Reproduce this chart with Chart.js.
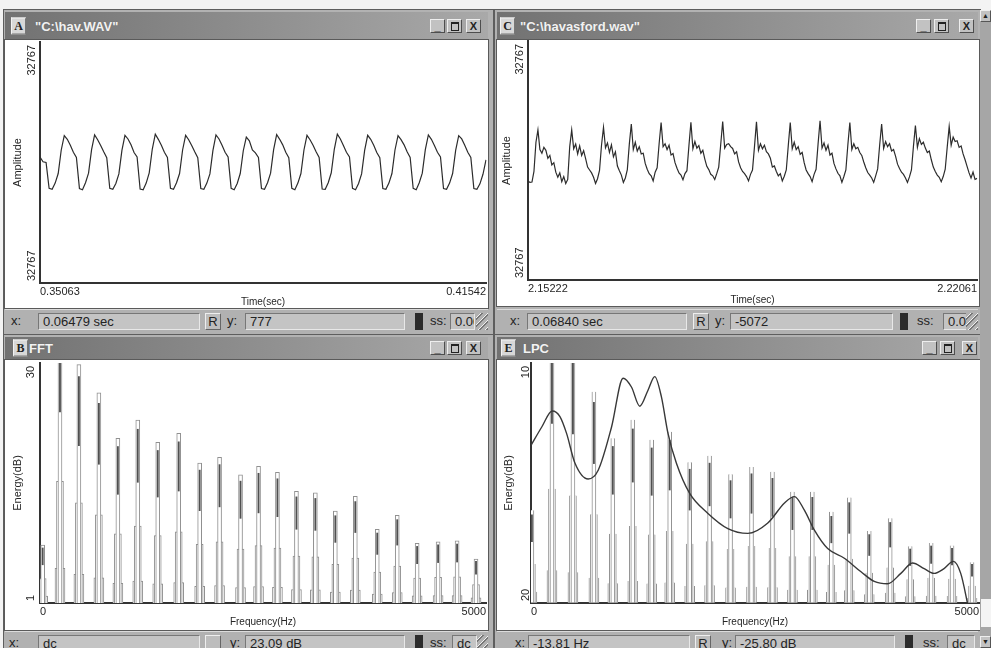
<!DOCTYPE html>
<html>
<head>
<meta charset="utf-8">
<script src="https://cdn.jsdelivr.net/npm/chart.js@4.4.1/dist/chart.umd.min.js"></script>
<style>
html, body { margin: 0; padding: 0; }
body { width: 991px; height: 648px; background: #f3f3f3; position: relative; overflow: hidden; font-family: "Liberation Sans", Arial, sans-serif; }
.frame { position: absolute; background: #b2b2b2; border: 1px solid #5e5e5e; box-sizing: border-box; }
.title { position: absolute; background: linear-gradient(to right, #727272, #a9a9a9); color: #f2f2f2; font-weight: bold; font-size: 13px; }
.title .txt { position: absolute; top: 50%; transform: translateY(-50%); white-space: nowrap; text-shadow: 0 0 1px #666; }
.badge { position: absolute; top: 50%; transform: translateY(-50%); width: 13px; height: 15px; background: #d8d8d8; color: #222; font: bold 12px "Liberation Serif", serif; text-align: center; line-height: 15px; border: 1px solid; border-color: #f2f2f2 #777 #777 #f2f2f2; }
.tbtn { position: absolute; top: 50%; transform: translateY(-50%); width: 15px; height: 14px; background: #c2c2c2; border: 1px solid; border-color: #eee #4e4e4e #4e4e4e #eee; box-sizing: border-box; color: #222; font: bold 11px "Liberation Sans", Arial, sans-serif; text-align: center; line-height: 12px; }
.tbtn .box { position: absolute; left: 3px; top: 2px; width: 6px; height: 6px; border: 1px solid #222; border-top-width: 2px; }
.client { position: absolute; background: #fff; border: 1px solid #5a5a5a; }
.client div { position: relative; width: 100%; height: 100%; }
.status { position: absolute; background: #b1b1b1; border-top: 1px solid #dcdcdc; font-size: 13px; color: #232323; overflow: hidden; }
.status span { position: absolute; top: 3px; height: 17px; line-height: 16px; white-space: nowrap; box-sizing: border-box; }
.field { background: #c4c4c4; border: 1px solid; border-color: #777 #e8e8e8 #e8e8e8 #777; padding-left: 4px; overflow: hidden; }
.rbtn { background: #bdbdbd; border: 1px solid; border-color: #eee #666 #666 #eee; text-align: center; }
.swatch { background: #2b2b2b; width: 8px; }
.grip { width: 12px; background: repeating-linear-gradient(135deg, #b1b1b1 0 3px, #f0f0f0 3px 4px, #777 4px 5px); }
.scroll { position: absolute; left: 980px; top: 10px; width: 11px; height: 638px; background: #a6a6a6; }
.arrow { position: absolute; left: 0; width: 11px; height: 12px; background: #c2c2c2; border: 1px solid; border-color: #eee #555 #555 #eee; box-sizing: border-box; font-size: 7px; line-height: 10px; text-align: center; color: #222; }
</style>
</head>
<body>

<div class="frame" style="left:3px;top:9px;width:491px;height:326px"></div>
<div class="frame" style="left:494px;top:9px;width:487px;height:326px"></div>
<div class="frame" style="left:3px;top:334px;width:491px;height:316px"></div>
<div class="frame" style="left:494px;top:334px;width:487px;height:316px"></div>

<div class="title" style="left:5px;top:12px;width:483px;height:27px">
  <span class="badge" style="left:6px">A</span><span class="txt" style="left:30px">"C:\hav.WAV"</span>
  <span class="tbtn" style="left:425px">_</span><span class="tbtn" style="left:442px"><i class="box"></i></span><span class="tbtn" style="left:461px">X</span>
</div>
<div class="title" style="left:497px;top:12px;width:481px;height:27px">
  <span class="badge" style="left:3px">C</span><span class="txt" style="left:23px">"C:\havasford.wav"</span>
  <span class="tbtn" style="left:419px">_</span><span class="tbtn" style="left:437px"><i class="box"></i></span><span class="tbtn" style="left:462px">X</span>
</div>
<div class="title" style="left:5px;top:337px;width:483px;height:22px">
  <span class="badge" style="left:8px">B</span><span class="txt" style="left:24px">FFT</span>
  <span class="tbtn" style="left:425px">_</span><span class="tbtn" style="left:442px"><i class="box"></i></span><span class="tbtn" style="left:461px">X</span>
</div>
<div class="title" style="left:497px;top:337px;width:481px;height:22px">
  <span class="badge" style="left:4px">E</span><span class="txt" style="left:26px">LPC</span>
  <span class="tbtn" style="left:425px">_</span><span class="tbtn" style="left:443px"><i class="box"></i></span><span class="tbtn" style="left:465px">X</span>
</div>

<div class="client" style="left:4px;top:39px;width:483px;height:268px"><div><canvas id="chart-a"></canvas></div></div>
<div class="client" style="left:496px;top:39px;width:482px;height:266px"><div><canvas id="chart-c"></canvas></div></div>
<div class="client" style="left:4px;top:359px;width:483px;height:270px"><div><canvas id="chart-b"></canvas></div></div>
<div class="client" style="left:496px;top:359px;width:484px;height:270px"><div><canvas id="chart-e"></canvas></div></div>

<div class="status" style="left:5px;top:309px;width:483px;height:24px">
  <span style="left:6px">x:</span>
  <span class="field" style="left:33px;width:162px">0.06479 sec</span>
  <span class="rbtn" style="left:200px;width:16px">R</span>
  <span style="left:222px">y:</span>
  <span class="field" style="left:240px;width:160px">777</span>
  <span class="swatch" style="left:410px"></span>
  <span style="left:425px">ss:</span>
  <span class="field" style="left:445px;width:25px">0.00</span>
  <span class="grip" style="left:471px"></span>
</div>
<div class="status" style="left:497px;top:309px;width:481px;height:24px">
  <span style="left:13px">x:</span>
  <span class="field" style="left:30px;width:160px">0.06840 sec</span>
  <span class="rbtn" style="left:196px;width:16px">R</span>
  <span style="left:218px">y:</span>
  <span class="field" style="left:233px;width:163px">-5072</span>
  <span class="swatch" style="left:403px"></span>
  <span style="left:420px">ss:</span>
  <span class="field" style="left:446px;width:24px">0.00</span>
  <span class="grip" style="left:469px"></span>
</div>
<div class="status" style="left:5px;top:631px;width:483px;height:20px">
  <span style="left:4px">x:</span>
  <span class="field" style="left:33px;width:162px">dc</span>
  <span class="rbtn" style="left:200px;width:16px"></span>
  <span style="left:225px">y:</span>
  <span class="field" style="left:240px;width:160px">23.09 dB</span>
  <span class="swatch" style="left:410px"></span>
  <span style="left:425px">ss:</span>
  <span class="field" style="left:447px;width:25px">dc</span>
  <span class="grip" style="left:472px"></span>
</div>
<div class="status" style="left:497px;top:631px;width:481px;height:20px">
  <span style="left:18px">x:</span>
  <span class="field" style="left:31px;width:162px">-13.81 Hz</span>
  <span class="rbtn" style="left:198px;width:16px">R</span>
  <span style="left:225px">y:</span>
  <span class="field" style="left:238px;width:160px">-25.80 dB</span>
  <span class="swatch" style="left:408px"></span>
  <span style="left:426px">ss:</span>
  <span class="field" style="left:450px;width:28px">dc</span>
</div>

<div class="scroll">
  <div class="arrow" style="top:0">&#9650;</div>
  <div style="position:absolute;left:1px;top:589px;width:10px;height:28px;background:#f4f4f4"></div>
  <div class="arrow" style="top:626px">&#9660;</div>
</div>

<script>
// waveform A, "C:\hav.WAV", amplitude samples across the window
var samplesA = [1500, 200, 0,
  -7000, -7300, -5600, -3000, 3400, 7300, 6300, 4700, 2800, 1400,
  -7100, -7400, -5500, -2900, 3500, 7500, 6200, 4600, 2900, 1300,
  -7000, -7300, -5700, -3100, 3300, 7400, 6400, 4800, 2700, 1500,
  -7200, -7400, -5600, -2800, 3600, 7700, 6300, 4700, 2800, 1400,
  -7000, -7300, -5500, -3000, 3400, 7400, 6200, 4600, 2900, 1300,
  -7100, -7300, -5600, -3100, 3300, 7500, 6400, 4700, 2800, 1500,
  -7000, -7400, -5700, -3000, 3200, 6900, 5900, 3400, 2600, 1400,
  -7100, -7300, -5500, -2900, 3500, 7600, 6300, 4800, 2800, 1300,
  -7000, -7400, -5600, -3000, 3400, 7400, 6200, 4700, 2900, 1400,
  -7200, -7300, -5500, -2800, 3600, 7700, 6400, 4600, 2800, 1500,
  -7000, -7400, -5700, -3100, 3300, 7400, 6300, 4700, 2700, 1300,
  -7100, -7300, -5600, -3000, 3400, 7300, 6200, 4800, 2900, 1400,
  -7000, -7400, -5500, -2900, 3500, 7500, 6300, 4600, 2800, 1500,
  -7100, -7300, -5600, -3000, 3300, 7300, 6400, 4700, 2800, 1400,
  -7100, -7300, -5800, -3200, 700];

// waveform C, "C:\havasford.wav"
var samplesC = [-5700, -6000, -5900, -3000, 5000,
  8400, 3000, 2000, 3600, 2800, 600, 1400, -1200, -600, -3200, -4600, -3400, -5800, -4400, -6300, -5200, 3800,
  8400, 3200, 4500, 1800, 4000, 1400, 2700, 500, -1800, -2600, -3400, -4600, -6300, -5000, -2700, 4200,
  9100, 3500, 4800, 2200, 4300, 1000, 2400, -1500, -2800, -4000, -6000, -4800, -2500, 4500,
  10000, 3000, 5000, 2600, 3800, 1800, 2000, -800, -2400, -3600, -4200, -5600, -3200, -2000, 4600,
  10400, 3800, 4600, 3000, 4200, 1500, 1900, -600, -2100, -3400, -4000, -5300, -3600, -2800, 4000,
  10500, 3200, 5200, 3400, 4100, 2000, 2800, 400, -1600, -2500, -3800, -4200, -5200, -3600, -1800, 4400,
  10700, 3400, 4400, 4600, 3800, 3300, 1800, 2400, -400, -2000, -3000, -3600, -4400, -5600, -3800, -2600, 3800,
  10600, 2800, 4600, 3200, 4200, 2400, 1800, 600, -1800, -1500, -3000, -4200, -3600, -5600, -4300, -2600, 4000,
  10400, 3200, 5000, 3000, 3800, 1700, 2200, -600, -2600, -3600, -4400, -5800, -3800, -2400, 4500,
  10900, 3400, 4800, 2800, 4200, 1500, 2000, -800, -2300, -3500, -4200, -6000, -4400, -2600, 4300,
  10400, 3000, 4600, 3200, 3600, 2200, 1400, -400, -2000, -3300, -4000, -4800, -6000, -4200, -2300, 4200,
  10000, 3300, 5200, 3800, 4600, 2600, 3000, 1200, -1000, -2200, -3200, -3800, -4800, -6000, -4500, -2600, 3800,
  9600, 3600, 6000, 4400, 5000, 3400, 2200, 2600, 200, -1800, -3000, -4000, -4600, -5800, -4400, -2400, 3600,
  9300, 4200, 6400, 5200, 5400, 3600, 4000, 1800, 200, -1600, -3400, -4800, -3200, -5200, -4900];

var timeTicksA = ['0.35063', '0.41542'];
var timeTicksC = ['2.15222', '2.22061'];
var ampTicks = ['32767', '32767'];

// FFT (B): harmonic frequency (Hz) and peak level
var freqB = [30, 224, 436, 660, 873, 1096, 1320, 1555, 1790, 2013, 2248, 2450, 2662, 2875, 3087, 3311, 3535, 3781, 4005, 4228, 4463, 4676, 4888];
var peakB = [8.0, 36, 29.8, 26.4, 20.9, 23.1, 20.4, 21.5, 17.9, 18.6, 16.5, 17.5, 16.8, 14.5, 14.3, 12.1, 13.9, 9.9, 11.6, 8.2, 8.4, 8.5, 6.3];
var energyTicksB = ['1', '30'];

// LPC (E): harmonics plus the LPC envelope
var freqE = [10, 234, 468, 702, 913, 1136, 1347, 1548, 1771, 1993, 2227, 2461, 2695, 2918, 3140, 3352, 3552, 3775, 4009, 4232, 4466, 4699, 4922];
var peakE = [-8.4, 14, 12, 6.4, 0.6, 2.9, 0.4, 1.4, -2.4, -1.6, -3.9, -3.0, -3.6, -6.1, -6.1, -8.6, -6.8, -11.0, -9.4, -12.9, -12.5, -12.8, -14.9];
var lpcFreq = [0, 120, 237, 323, 397, 490, 638, 750, 899, 1028, 1121, 1214, 1306, 1381, 1455, 1529, 1622, 1771, 1975, 2197, 2420, 2643, 2829, 2940, 3051, 3163, 3311, 3497, 3683, 3831, 3979, 4128, 4258, 4388, 4499, 4610, 4714, 4796, 4881];
var lpcDb = [-0.3, 2.0, 4.0, 3.3, 1.2, -2.5, -4.5, -3.4, 2.0, 8.1, 7.0, 4.6, 6.6, 8.3, 5.8, 1.2, -2.5, -6.3, -8.8, -10.7, -11.3, -10.0, -7.5, -6.7, -8.4, -10.9, -13.2, -14.4, -16.1, -17.3, -17.6, -16.3, -15.0, -15.7, -16.3, -15.7, -14.8, -16.3, -20.5];
var energyTicksE = ['20', '10'];
var freqTicks = ['0', '5000'];

Chart.defaults.font.family = '"Liberation Sans", Arial, sans-serif';
Chart.defaults.color = '#262626';

// end labels of the value axis, printed rotated like the original program
Chart.register({
  id: 'edgeLabels',
  afterDraw: function (chart, args, opts) {
    if (!opts.labels) return;
    var ctx = chart.ctx;
    var ys = chart.scales.y;
    ctx.save();
    ctx.font = '11px "Liberation Sans", Arial, sans-serif';
    ctx.fillStyle = '#262626';
    ctx.textBaseline = 'middle';
    ctx.translate(opts.x, ys.getPixelForValue(ys.max) + 3);
    ctx.rotate(-Math.PI / 2);
    ctx.textAlign = 'right';
    ctx.fillText(opts.labels[1], 0, 0);
    ctx.restore();
    ctx.save();
    ctx.font = '11px "Liberation Sans", Arial, sans-serif';
    ctx.fillStyle = '#262626';
    ctx.textBaseline = 'middle';
    ctx.translate(opts.x, ys.getPixelForValue(ys.min) - 2);
    ctx.rotate(-Math.PI / 2);
    ctx.textAlign = 'left';
    ctx.fillText(opts.labels[0], 0, 0);
    ctx.restore();
  }
});

function valueAxis(title, width, min, max, titlePad) {
  return {
    min: min,
    max: max,
    grid: { display: false, drawTicks: false },
    border: { color: '#333', width: 2 },
    ticks: { display: false },
    title: { display: true, text: title, font: { size: 11 }, padding: { top: titlePad, bottom: 0 } },
    afterFit: function (s) { s.width = width; }
  };
}

function bottomAxis(type, title, tickText, height, titlePad) {
  var axis = {
    type: type,
    offset: false,
    grid: { display: false, drawTicks: false },
    border: { color: '#333', width: 2 },
    afterBuildTicks: function (s) { s.ticks = [s.ticks[0], s.ticks[s.ticks.length - 1]]; },
    ticks: {
      autoSkip: false, maxRotation: 0, align: 'inner', padding: 2, font: { size: 11 },
      callback: function (v, i) { return tickText[i]; }
    },
    title: { display: true, text: title, font: { size: 10 }, padding: { top: 0, bottom: titlePad } },
    afterFit: function (s) { s.height = height; }
  };
  if (type === 'linear') {
    axis.min = 0;
    axis.max = 5000;
    axis.afterBuildTicks = function (s) { s.ticks = [{ value: s.min }, { value: s.max }]; };
  }
  return axis;
}

function waveChart(id, samples, timeTicks, yWidth, yTitlePad, xHeight, padTop, labelX) {
  return new Chart(document.getElementById(id), {
    type: 'line',
    data: {
      labels: samples.map(function (v, i) { return i; }),
      datasets: [{
        data: samples,
        borderColor: '#2c2c2c',
        borderWidth: 1.2,
        pointRadius: 0,
        tension: 0
      }]
    },
    options: {
      responsive: true,
      maintainAspectRatio: false,
      animation: false,
      events: [],
      layout: { padding: { top: padTop, right: 1, left: 0, bottom: 0 } },
      plugins: { legend: { display: false }, tooltip: { enabled: false }, edgeLabels: { labels: ampTicks, x: labelX } },
      scales: {
        x: bottomAxis('category', 'Time(sec)', timeTicks, xHeight, 0),
        y: valueAxis('Amplitude', yWidth, -32767, 32767, yTitlePad)
      }
    }
  });
}

// each harmonic: thin dark core, narrow stem, and two wider steps at the foot
function spikeSets(freqs, peaks, floor) {
  function part(lo, hi) {
    return freqs.map(function (f, i) {
      var h = peaks[i] - floor;
      return { x: f, y: [floor + lo * h, floor + hi * h] };
    });
  }
  return [
    { data: part(0.66, 0.95), barThickness: 1.2, backgroundColor: '#505050', borderWidth: 0, grouped: false },
    { data: part(0, 1), barThickness: 4, backgroundColor: '#fff', borderColor: '#909090', borderWidth: 1, grouped: false },
    { data: part(0, 0.42), barThickness: 7, backgroundColor: '#fff', borderColor: '#909090', borderWidth: 1, grouped: false },
    { data: part(0, 0.12), barThickness: 10, backgroundColor: '#fff', borderColor: '#909090', borderWidth: 1, grouped: false }
  ];
}

function spectrumChart(id, datasets, yMin, yMax, yTicks, yWidth, yTitlePad, labelX) {
  return new Chart(document.getElementById(id), {
    type: 'bar',
    data: { datasets: datasets },
    options: {
      responsive: true,
      maintainAspectRatio: false,
      animation: false,
      events: [],
      layout: { padding: { top: 3, right: 1, left: 0, bottom: 0 } },
      plugins: { legend: { display: false }, tooltip: { enabled: false }, edgeLabels: { labels: yTicks, x: labelX } },
      scales: {
        x: bottomAxis('linear', 'Frequency(Hz)', freqTicks, 27, 2),
        y: valueAxis('Energy(dB)', yWidth, yMin, yMax, yTitlePad)
      }
    }
  });
}

// Chart A
var chartA = waveChart('chart-a', samplesA, timeTicksA, 35, 6, 25, 2, 27);

// Chart C
var chartC = waveChart('chart-c', samplesC, timeTicksC, 31, 3.5, 26, 1, 23);

// Chart B
var chartB = spectrumChart('chart-b', spikeSets(freqB, peakB, 1), 1, 30, energyTicksB, 35, 6, 26);

// Chart E
var lpcLine = {
  type: 'line',
  data: lpcFreq.map(function (f, i) { return { x: f, y: lpcDb[i] }; }),
  borderColor: '#383838',
  borderWidth: 1.4,
  pointRadius: 0,
  cubicInterpolationMode: 'monotone'
};
var chartE = spectrumChart('chart-e', [lpcLine].concat(spikeSets(freqE, peakE, -20)), -20, 10, energyTicksE, 34, 5.5, 29);
</script>
</body>
</html>
